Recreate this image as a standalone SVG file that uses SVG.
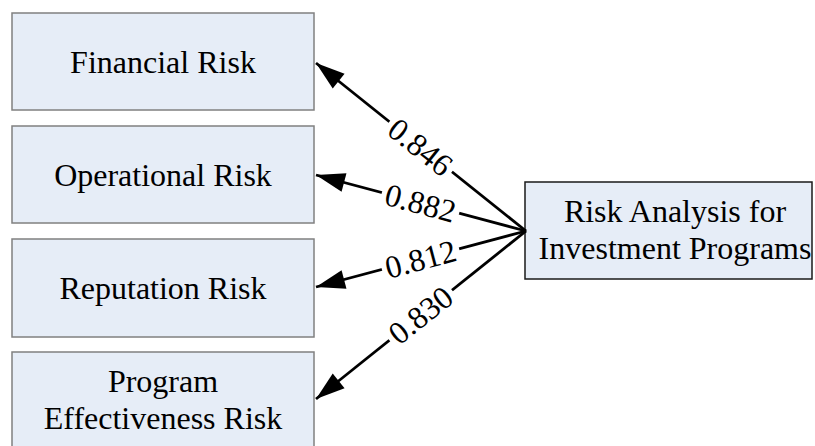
<svg xmlns="http://www.w3.org/2000/svg" width="815" height="446" viewBox="0 0 815 446">
<style>
.box{fill:#E6EDF7;stroke:#808080;stroke-width:1.5}
.rbox{fill:#E6EDF7;stroke:#1a1a1a;stroke-width:1.5}
.t{font-family:"Liberation Serif","Times New Roman",serif;font-size:32px;fill:#000;text-anchor:middle}
.c{stroke:#000;stroke-width:2.8;fill:none;marker-end:url(#ah)}
.lb{fill:#fff}
</style>
<defs>
<marker id="ah" markerUnits="userSpaceOnUse" markerWidth="32" markerHeight="24" viewBox="0 0 32 24" refX="30" refY="12" orient="auto">
<path d="M1,2.5 L30,12 L1,21.5 Z" fill="#000"/>
</marker>
</defs>
<rect width="815" height="446" fill="#fff"/>
<g id="financial">
<rect class="box" x="12" y="13" width="302" height="97"/>
<text class="t" x="163" y="73">Financial Risk</text>
</g>
<g id="operational">
<rect class="box" x="12" y="126" width="302" height="97"/>
<text class="t" x="163" y="186">Operational Risk</text>
</g>
<g id="reputation">
<rect class="box" x="12" y="239" width="302" height="98"/>
<text class="t" x="163" y="299">Reputation Risk</text>
</g>
<g id="program">
<rect class="box" x="12" y="352" width="302" height="110"/>
<text class="t" x="163" y="392">Program</text>
<text class="t" x="163" y="429">Effectiveness Risk</text>
</g>
<g id="riskanalysis">
<rect class="rbox" x="525" y="182" width="287" height="97"/>
<text class="t" x="675" y="222">Risk Analysis for</text>
<text class="t" x="675" y="259">Investment Programs</text>
</g>
<g id="connectors">
<path class="c" d="M526,231 L316,63"/>
<path class="c" d="M526,231 L316,175"/>
<path class="c" d="M526,231 L316,287"/>
<path class="c" d="M526,231 L316,399"/>
<g transform="translate(420.5,147) rotate(38.5)">
<rect class="lb" x="-40" y="-15" width="80" height="30"/>
<text class="t" x="0" y="11">0.846</text>
</g>
<g transform="translate(420.5,203) rotate(14.9)">
<rect class="lb" x="-40" y="-15" width="80" height="30"/>
<text class="t" x="0" y="11">0.882</text>
</g>
<g transform="translate(420.5,259) rotate(-14.9)">
<rect class="lb" x="-40" y="-15" width="80" height="30"/>
<text class="t" x="0" y="11">0.812</text>
</g>
<g transform="translate(420.5,315) rotate(-38.5)">
<rect class="lb" x="-40" y="-15" width="80" height="30"/>
<text class="t" x="0" y="11">0.830</text>
</g>
</g>
</svg>
